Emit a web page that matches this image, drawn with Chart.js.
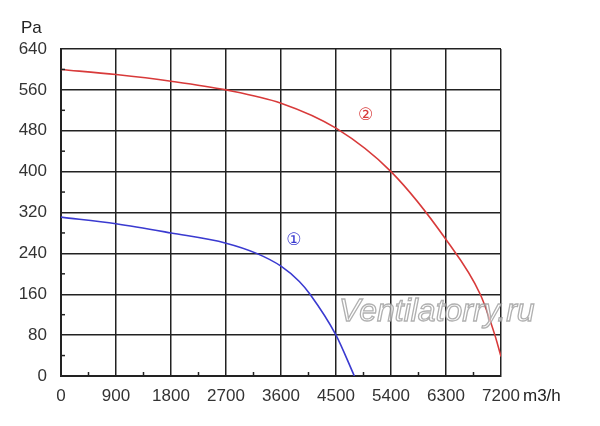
<!DOCTYPE html>
<html>
<head>
<meta charset="utf-8">
<script src="https://cdn.jsdelivr.net/npm/chart.js@4"></script>
<style>
  html, body { margin: 0; padding: 0; background: #fff; }
  #wrap { width: 600px; height: 426px; }
</style>
</head>
<body>
<div id="wrap"><canvas id="chartCanvas" width="600" height="426"></canvas></div>
<script>
// --- Data ---
const xTicks = [0, 900, 1800, 2700, 3600, 4500, 5400, 6300, 7200];
const yTicks = [0, 80, 160, 240, 320, 400, 480, 560, 640];

const flow2 = [0, 900, 1800, 2700, 3600, 4500, 5400, 6300, 6860, 7100, 7200];
const pres2 = [600, 590, 577, 560, 534, 485, 400, 267, 160, 80, 38];

const flow1 = [0, 900, 1800, 2700, 3200, 3600, 3900, 4075, 4500, 4800];
const pres1 = [311, 298, 280, 260, 240, 215, 185, 160, 80, 0];

const curveLabels = [
  { text: "\u2460", x: 3810, y: 265, color: "#3a3ad0" },
  { text: "\u2461", x: 4985, y: 510, color: "#d83a3a" }
];

const FONT = "'Liberation Sans', Arial, sans-serif";

const toPoints = (xs, ys) => xs.map((x, i) => ({ x, y: ys[i] }));

// --- Extra drawing: minor ticks, units, curve numbers, watermark ---
const extrasPlugin = {
  id: "extras",
  afterDraw(chart) {
    const ctx = chart.ctx;
    const xs = chart.scales.x;
    const ys = chart.scales.y;
    ctx.save();

    // minor ticks at the half steps, pointing inward
    ctx.strokeStyle = "#222";
    ctx.lineWidth = 1.5;
    for (let i = 0; i < xTicks.length - 1; i++) {
      const px = xs.getPixelForValue((xTicks[i] + xTicks[i + 1]) / 2);
      ctx.beginPath();
      ctx.moveTo(px, ys.bottom);
      ctx.lineTo(px, ys.bottom - 4);
      ctx.stroke();
    }
    for (let i = 0; i < yTicks.length - 1; i++) {
      const py = ys.getPixelForValue((yTicks[i] + yTicks[i + 1]) / 2);
      ctx.beginPath();
      ctx.moveTo(xs.left, py);
      ctx.lineTo(xs.left + 4, py);
      ctx.stroke();
    }

    // axis units
    ctx.fillStyle = "#222";
    ctx.font = "17px " + FONT;
    ctx.textBaseline = "middle";
    ctx.textAlign = "left";
    ctx.fillText("Pa", 21, 28);
    ctx.fillText("m3/h", xs.right + 22, 396);

    // curve numbers
    ctx.textAlign = "center";
    ctx.font = "17px 'DejaVu Sans', sans-serif";
    curveLabels.forEach(l => {
      ctx.fillStyle = l.color;
      ctx.fillText(l.text, xs.getPixelForValue(l.x), ys.getPixelForValue(l.y));
    });

    // watermark
    ctx.font = "italic 32px " + FONT;
    ctx.textAlign = "left";
    ctx.lineWidth = 1.3;
    ctx.strokeStyle = "rgba(150,150,150,0.75)";
    ctx.fillStyle = "rgba(255,255,255,0.6)";
    ctx.fillText("Ventilatorry.ru", 339, 312);
    ctx.strokeText("Ventilatorry.ru", 339, 312);

    ctx.restore();
  }
};

// --- Chart ---
function buildChart() {
  return {
    type: "line",
    data: {
      datasets: [
        {
          label: "2",
          data: toPoints(flow2, pres2),
          borderColor: "#d83a3a",
          borderWidth: 1.6,
          pointRadius: 0,
          cubicInterpolationMode: "monotone",
          fill: false
        },
        {
          label: "1",
          data: toPoints(flow1, pres1),
          borderColor: "#3a3ad0",
          borderWidth: 1.6,
          pointRadius: 0,
          cubicInterpolationMode: "monotone",
          fill: false
        }
      ]
    },
    options: {
      responsive: false,
      animation: false,
      layout: { padding: { top: 49, right: 99, left: 0, bottom: 0 } },
      plugins: {
        legend: { display: false },
        tooltip: { enabled: false }
      },
      scales: {
        x: {
          type: "linear",
          min: 0,
          max: 7200,
          afterBuildTicks: s => { s.ticks = xTicks.map(v => ({ value: v })); },
          afterFit: s => { s.height = 50; },
          grid: { color: "#222", lineWidth: 1.5, drawTicks: false },
          border: { color: "#222", width: 2 },
          ticks: {
            color: "#333", padding: 10, maxRotation: 0,
            font: { size: 17, family: FONT },
            callback: v => String(v)
          }
        },
        y: {
          type: "linear",
          min: 0,
          max: 640,
          afterBuildTicks: s => { s.ticks = yTicks.map(v => ({ value: v })); },
          afterFit: s => { s.width = 61; },
          grid: { color: "#222", lineWidth: 1.5, drawTicks: false },
          border: { color: "#222", width: 2 },
          ticks: {
            color: "#333", padding: 14,
            font: { size: 17, family: FONT },
            callback: v => String(v)
          }
        }
      }
    },
    plugins: [extrasPlugin]
  };
}

const canvas = document.getElementById("chartCanvas").getContext("2d");
let currentChart = new Chart(canvas, buildChart());
</script>
</body>
</html>
